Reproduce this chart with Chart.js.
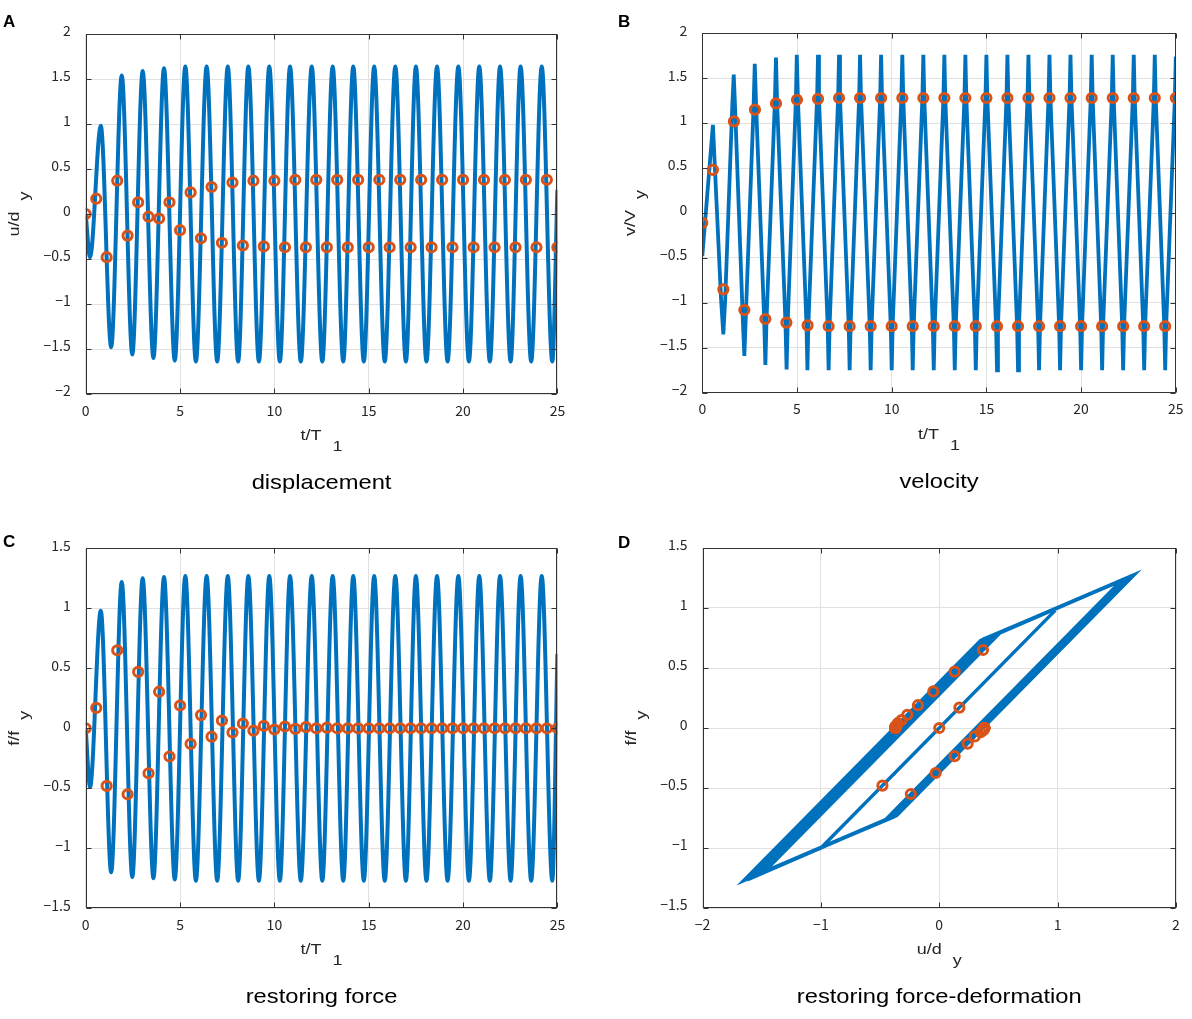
<!DOCTYPE html>
<html>
<head>
<meta charset="utf-8">
<script src="https://cdn.jsdelivr.net/npm/chart.js@4.4.1/dist/chart.umd.min.js"></script>
<style>
html,body{margin:0;padding:0;background:#fff;}
body{width:1192px;height:1019px;position:relative;overflow:hidden;}
.panel{position:absolute;}
canvas{display:block;}
</style>
</head>
<body>
<div class="panel" style="left:0;top:0;"><canvas id="cA" width="596" height="515" style="width:596px;height:515px"></canvas></div>
<div class="panel" style="left:596px;top:0;"><canvas id="cB" width="596" height="515" style="width:596px;height:515px"></canvas></div>
<div class="panel" style="left:0;top:515px;"><canvas id="cC" width="596" height="504" style="width:596px;height:504px"></canvas></div>
<div class="panel" style="left:596px;top:515px;"><canvas id="cD" width="596" height="504" style="width:596px;height:504px"></canvas></div>
<script>
// ---------------- data ----------------
// times (t/T1) of the extrema of displacement and restoring force curves
const extremaT = [0, 0.23, 0.80, 1.35, 1.91, 2.47, 3.02, 3.59, 4.15, 4.72, 5.28,
  5.84, 6.41, 6.97, 7.53, 8.08, 8.62, 9.18, 9.73, 10.29, 10.83,
  11.40, 11.98, 12.54, 13.09, 13.65, 14.18, 14.74, 15.29, 15.85, 16.41,
  16.97, 17.50, 18.06, 18.62, 19.18, 19.75, 20.31, 20.86, 21.42, 21.96,
  22.52, 23.05, 23.61, 24.17, 24.73, 25.00];
// displacement u/dy at those times
const dispU = [0, -0.48, 0.98, -1.48, 1.54, -1.56, 1.59, -1.60, 1.62, -1.63, 1.64,
  -1.64, 1.64, -1.64, 1.64, -1.64, 1.64, -1.64, 1.64, -1.64, 1.64,
  -1.64, 1.64, -1.64, 1.64, -1.64, 1.64, -1.64, 1.64, -1.64, 1.64,
  -1.64, 1.64, -1.64, 1.64, -1.64, 1.64, -1.64, 1.64, -1.64, 1.64,
  -1.64, 1.64, -1.64, 1.64, -1.64, 0.27];
// restoring force f/fy at those times
const forceF = [0, -0.49, 0.98, -1.20, 1.22, -1.24, 1.25, -1.25, 1.26, -1.26, 1.27,
  -1.27, 1.27, -1.27, 1.27, -1.27, 1.27, -1.27, 1.27, -1.27, 1.27,
  -1.27, 1.27, -1.27, 1.27, -1.27, 1.27, -1.27, 1.27, -1.27, 1.27,
  -1.27, 1.27, -1.27, 1.27, -1.27, 1.27, -1.27, 1.27, -1.27, 1.27,
  -1.27, 1.27, -1.27, 1.27, -1.27, 0.62];

// velocity v/Vy curve (spiky, piecewise linear)
const velT = [0, 0.56,
  0.99, 1.11, 1.21,  1.58, 1.66, 1.73,  2.14, 2.22, 2.29,  2.71, 2.77, 2.84,
  3.27, 3.33, 3.39,  3.83, 3.89, 3.95,  4.39, 4.45, 4.51,  4.94, 4.99, 5.05,
  5.50, 5.55, 5.60,  6.06, 6.11, 6.16,  6.62, 6.67, 6.72,  7.17, 7.22, 7.27,
  7.73, 7.78, 7.83,  8.28, 8.33, 8.38,  8.84, 8.89, 8.94,  9.39, 9.44, 9.49,
  9.95, 10.00, 10.05,  10.51, 10.56, 10.61,  11.06, 11.11, 11.16,  11.62, 11.67, 11.72,
  12.17, 12.22, 12.27,  12.73, 12.78, 12.83,  13.28, 13.33, 13.38,  13.84, 13.89, 13.94,
  14.39, 14.44, 14.49,  14.95, 15.00, 15.05,  15.51, 15.56, 15.61,  16.06, 16.11, 16.16,
  16.62, 16.67, 16.72,  17.17, 17.22, 17.27,  17.73, 17.78, 17.83,  18.28, 18.33, 18.38,
  18.84, 18.89, 18.94,  19.39, 19.44, 19.49,  19.95, 20.00, 20.05,  20.51, 20.56, 20.61,
  21.06, 21.11, 21.16,  21.62, 21.67, 21.72,  22.17, 22.22, 22.27,  22.73, 22.78, 22.83,
  23.28, 23.33, 23.38,  23.84, 23.89, 23.94,  24.39, 24.44, 24.49,  24.95, 25.00];
const velV = [-0.48, 0.98,
  -0.96, -1.35, -0.96,  1.18, 1.54, 1.18,  -1.19, -1.59, -1.19,  1.20, 1.66, 1.20,
  -1.20, -1.69, -1.20,  1.23, 1.73, 1.23,  -1.22, -1.74, -1.22,  1.26, 1.76, 1.26,
  -1.24, -1.75, -1.24,  1.28, 1.76, 1.28,  -1.26, -1.75, -1.26,  1.28, 1.76, 1.28,
  -1.26, -1.75, -1.26,  1.28, 1.76, 1.28,  -1.26, -1.75, -1.26,  1.28, 1.76, 1.28,
  -1.26, -1.75, -1.26,  1.28, 1.76, 1.28,  -1.26, -1.75, -1.26,  1.28, 1.76, 1.28,
  -1.26, -1.75, -1.26,  1.28, 1.76, 1.28,  -1.26, -1.75, -1.26,  1.28, 1.76, 1.28,
  -1.26, -1.75, -1.26,  1.28, 1.76, 1.28,  -1.26, -1.75, -1.26,  1.28, 1.76, 1.28,
  -1.26, -1.75, -1.26,  1.28, 1.76, 1.28,  -1.26, -1.75, -1.26,  1.28, 1.76, 1.28,
  -1.26, -1.75, -1.26,  1.28, 1.76, 1.28,  -1.26, -1.75, -1.26,  1.28, 1.76, 1.28,
  -1.26, -1.75, -1.26,  1.28, 1.76, 1.28,  -1.26, -1.75, -1.26,  1.28, 1.76, 1.28,
  -1.26, -1.75, -1.26,  1.28, 1.76, 1.28,  -1.26, -1.75, -1.26,  1.28, 1.74];

// sampled points (orange circles)
const markerT = [0, 0.56, 1.11, 1.67, 2.22, 2.78, 3.33, 3.89, 4.44, 5.00,
  5.56, 6.11, 6.67, 7.22, 7.78, 8.33, 8.89, 9.44, 10.00, 10.56,
  11.11, 11.67, 12.22, 12.78, 13.33, 13.89, 14.44, 15.00, 15.56, 16.11,
  16.67, 17.22, 17.78, 18.33, 18.89, 19.44, 20.00, 20.56, 21.11, 21.67,
  22.22, 22.78, 23.33, 23.89, 24.44, 25.00];
const dispMk = [0, 0.17, -0.48, 0.37, -0.24, 0.13, -0.03, -0.05, 0.13, -0.18,
  0.24, -0.27, 0.30, -0.32, 0.35, -0.35, 0.37, -0.36, 0.37, -0.37,
  0.38, -0.37, 0.38, -0.37, 0.38, -0.37, 0.38, -0.37, 0.38, -0.37,
  0.38, -0.37, 0.38, -0.37, 0.38, -0.37, 0.38, -0.37, 0.38, -0.37,
  0.38, -0.37, 0.38, -0.37, 0.38, -0.37];
const velMk = [-0.11, 0.48, -0.85, 1.02, -1.08, 1.15, -1.18, 1.22, -1.22, 1.26,
  -1.25, 1.27, -1.26, 1.28, -1.26, 1.28, -1.26, 1.28, -1.26, 1.28,
  -1.26, 1.28, -1.26, 1.28, -1.26, 1.28, -1.26, 1.28, -1.26, 1.28,
  -1.26, 1.28, -1.26, 1.28, -1.26, 1.28, -1.26, 1.28, -1.26, 1.28,
  -1.26, 1.28, -1.26, 1.28, -1.26, 1.28];
const forceMk = [0, 0.17, -0.48, 0.65, -0.55, 0.47, -0.375, 0.305, -0.235, 0.19,
  -0.13, 0.11, -0.07, 0.065, -0.035, 0.04, -0.02, 0.02, -0.01, 0.015,
  -0.005, 0.01, 0, 0.005, 0, 0, 0, 0, 0, 0,
  0, 0, 0, 0, 0, 0, 0, 0, 0, 0,
  0, 0, 0, 0, 0, 0];

// hysteresis path (restoring force vs deformation), vertices in order
const loopU = [0, -0.49, 0.98, -1.00, -1.48, 0.52, 1.54, -0.46, -1.56, 0.44, 1.59, -0.41, -1.60,
  0.40, 1.62, -0.38, -1.63, 0.37, 1.64, -0.36, -1.65, 0.35, 1.65, -0.35, -1.65, 0.27];
const loopF = [0, -0.49, 0.98, -1.00, -1.20, 0.80, 1.23, -0.77, -1.24, 0.76, 1.25, -0.75, -1.25,
  0.75, 1.26, -0.74, -1.26, 0.74, 1.27, -0.73, -1.27, 0.73, 1.28, -0.72, -1.27, 0.65];

// tick settings
const timeTicks = {min: 0, max: 25, step: 5};
const dispTicks = {min: -2, max: 2, step: 0.5};
const forceTicks = {min: -1.5, max: 1.5, step: 0.5};
const defTicks = {min: -2, max: 2, step: 1};

// ---------------- drawing ----------------
const BLUE = '#0072BD', ORANGE = '#D95319';
const GRID = '#e1e1e1', BOX = '#333333', TXT = '#262626';
const TICK_FONT = {family: '"Noto Sans CJK JP", "Liberation Sans", sans-serif', size: 14};

function pts(xs, ys) { return xs.map((x, i) => ({x: x, y: ys[i]})); }
function fmt(v) { return String(Math.round(v * 100) / 100).replace('-', '\u2212'); }

function txt(ctx, s, x, y, font, sx, align, color) {
  ctx.save();
  ctx.font = font; ctx.fillStyle = color || TXT;
  ctx.translate(x, y); ctx.scale(sx, 1);
  ctx.textAlign = align || 'left'; ctx.textBaseline = 'alphabetic';
  ctx.fillText(s, 0, 0);
  ctx.restore();
}

const matlabPlugin = {
  id: 'matlab',
  afterDraw(chart, args, o) {
    const ctx = chart.ctx, a = chart.chartArea;
    const xs = chart.scales.x, ys = chart.scales.y;
    ctx.save();
    ctx.strokeStyle = BOX; ctx.lineWidth = 1;
    const L = Math.round(a.left) + 0.5, T = Math.round(a.top) + 0.5;
    const R = Math.round(a.right) - 0.5, B = Math.round(a.bottom) - 0.5;
    ctx.strokeRect(L, T, R - L, B - T);
    const tl = 5;
    ctx.beginPath();
    xs.ticks.forEach(t => {
      const x = Math.round(xs.getPixelForValue(t.value)) + 0.5;
      ctx.moveTo(x, B); ctx.lineTo(x, B - tl);
      ctx.moveTo(x, T); ctx.lineTo(x, T + tl);
    });
    ys.ticks.forEach(t => {
      const y = Math.round(ys.getPixelForValue(t.value)) + 0.5;
      ctx.moveTo(L, y); ctx.lineTo(L + tl, y);
      ctx.moveTo(R, y); ctx.lineTo(R - tl, y);
    });
    ctx.stroke();

    // axis titles with offset subscript
    const f = '15px "Liberation Sans", sans-serif', sx = 1.2, gap = 11;
    ctx.font = f;
    let w1 = ctx.measureText(o.xTitle[0]).width * sx;
    let w2 = ctx.measureText(o.xTitle[1]).width * sx;
    let x0 = (a.left + a.right) / 2 - (w1 + gap + w2) / 2;
    txt(ctx, o.xTitle[0], x0, a.bottom + 46, f, sx);
    txt(ctx, o.xTitle[1], x0 + w1 + gap, a.bottom + 57, f, sx);

    ctx.font = f;
    w1 = ctx.measureText(o.yTitle[0]).width * sx;
    w2 = ctx.measureText(o.yTitle[1]).width * sx;
    ctx.save();
    ctx.translate(a.left - 67, (a.top + a.bottom) / 2);
    ctx.rotate(-Math.PI / 2);
    const s0 = -(w1 + gap + w2) / 2;
    txt(ctx, o.yTitle[0], s0, 0, f, sx);
    txt(ctx, o.yTitle[1], s0 + w1 + gap, 10, f, sx);
    ctx.restore();

    // caption under the panel
    txt(ctx, o.caption, (a.left + a.right) / 2, a.bottom + 95, '21px "Liberation Sans", sans-serif', 1.13, 'center', '#000');
    // panel letter
    txt(ctx, o.letter, o.lx, o.ly, 'bold 17px "Liberation Sans", sans-serif', 1, 'left', '#000');
    ctx.restore();
  }
};

function scales(xt, yt, yW, xH) {
  return {
    x: {type: 'linear', min: xt.min, max: xt.max,
      ticks: {stepSize: xt.step, autoSkip: false, maxRotation: 0, padding: 8, font: TICK_FONT, color: TXT, callback: fmt},
      grid: {color: GRID, drawTicks: false, lineWidth: 1}, border: {display: false},
      afterFit(s) { s.height = xH; }},
    y: {type: 'linear', min: yt.min, max: yt.max,
      ticks: {stepSize: yt.step, autoSkip: false, padding: 15, font: TICK_FONT, color: TXT, callback: fmt, labelOffset: -3},
      grid: {color: GRID, drawTicks: false, lineWidth: 1}, border: {display: false},
      afterFit(s) { s.width = yW; }}
  };
}

function markerSet(data) {
  return {data: data, showLine: false, pointStyle: 'circle', pointRadius: 4.6, pointBorderWidth: 3,
    pointBorderColor: ORANGE, pointBackgroundColor: 'rgba(0,0,0,0)', order: 0};
}
function lineSet(data, width, smooth) {
  const d = {data: data, showLine: true, borderColor: BLUE, borderWidth: width, pointRadius: 0,
    tension: 0, fill: false, order: 1, borderJoinStyle: 'miter'};
  if (smooth) d.cubicInterpolationMode = 'monotone';
  return d;
}

function panel(id, p) {
  return new Chart(document.getElementById(id), {
    type: 'scatter',
    data: {datasets: p.datasets},
    options: {
      responsive: false, animation: false, events: [],
      layout: {padding: {left: 0, top: p.top, right: p.right, bottom: 0}},
      scales: scales(p.xt, p.yt, p.yW, p.xH),
      plugins: {legend: {display: false}, tooltip: {enabled: false}, matlab: p.deco}
    },
    plugins: [matlabPlugin]
  });
}

panel('cA', {
  datasets: [markerSet(pts(markerT, dispMk)), lineSet(pts(extremaT, dispU), 4, true)],
  xt: timeTicks, yt: dispTicks, yW: 85.7, xH: 121, top: 34, right: 38.6,
  deco: {xTitle: ['t/T', '1'], yTitle: ['u/d', 'y'], caption: 'displacement', letter: 'A', lx: 3, ly: 27}
});
panel('cB', {
  datasets: [markerSet(pts(markerT, velMk)), lineSet(pts(velT, velV), 3.8, false)],
  xt: timeTicks, yt: dispTicks, yW: 106.3, xH: 122.3, top: 33.3, right: 16.2,
  deco: {xTitle: ['t/T', '1'], yTitle: ['v/V', 'y'], caption: 'velocity', letter: 'B', lx: 22, ly: 27}
});
panel('cC', {
  datasets: [markerSet(pts(markerT, forceMk)), lineSet(pts(extremaT, forceF), 4, true)],
  xt: timeTicks, yt: forceTicks, yW: 85.7, xH: 110.7, top: 33.3, right: 38.6,
  deco: {xTitle: ['t/T', '1'], yTitle: ['f/f', 'y'], caption: 'restoring force', letter: 'C', lx: 3, ly: 32}
});
panel('cD', {
  datasets: [markerSet(pts(dispMk, forceMk)), lineSet(pts(loopU, loopF), 3.4, false)],
  xt: defTicks, yt: forceTicks, yW: 106.5, xH: 111, top: 33, right: 16,
  deco: {xTitle: ['u/d', 'y'], yTitle: ['f/f', 'y'], caption: 'restoring force-deformation', letter: 'D', lx: 22, ly: 33}
});
</script>
</body>
</html>
